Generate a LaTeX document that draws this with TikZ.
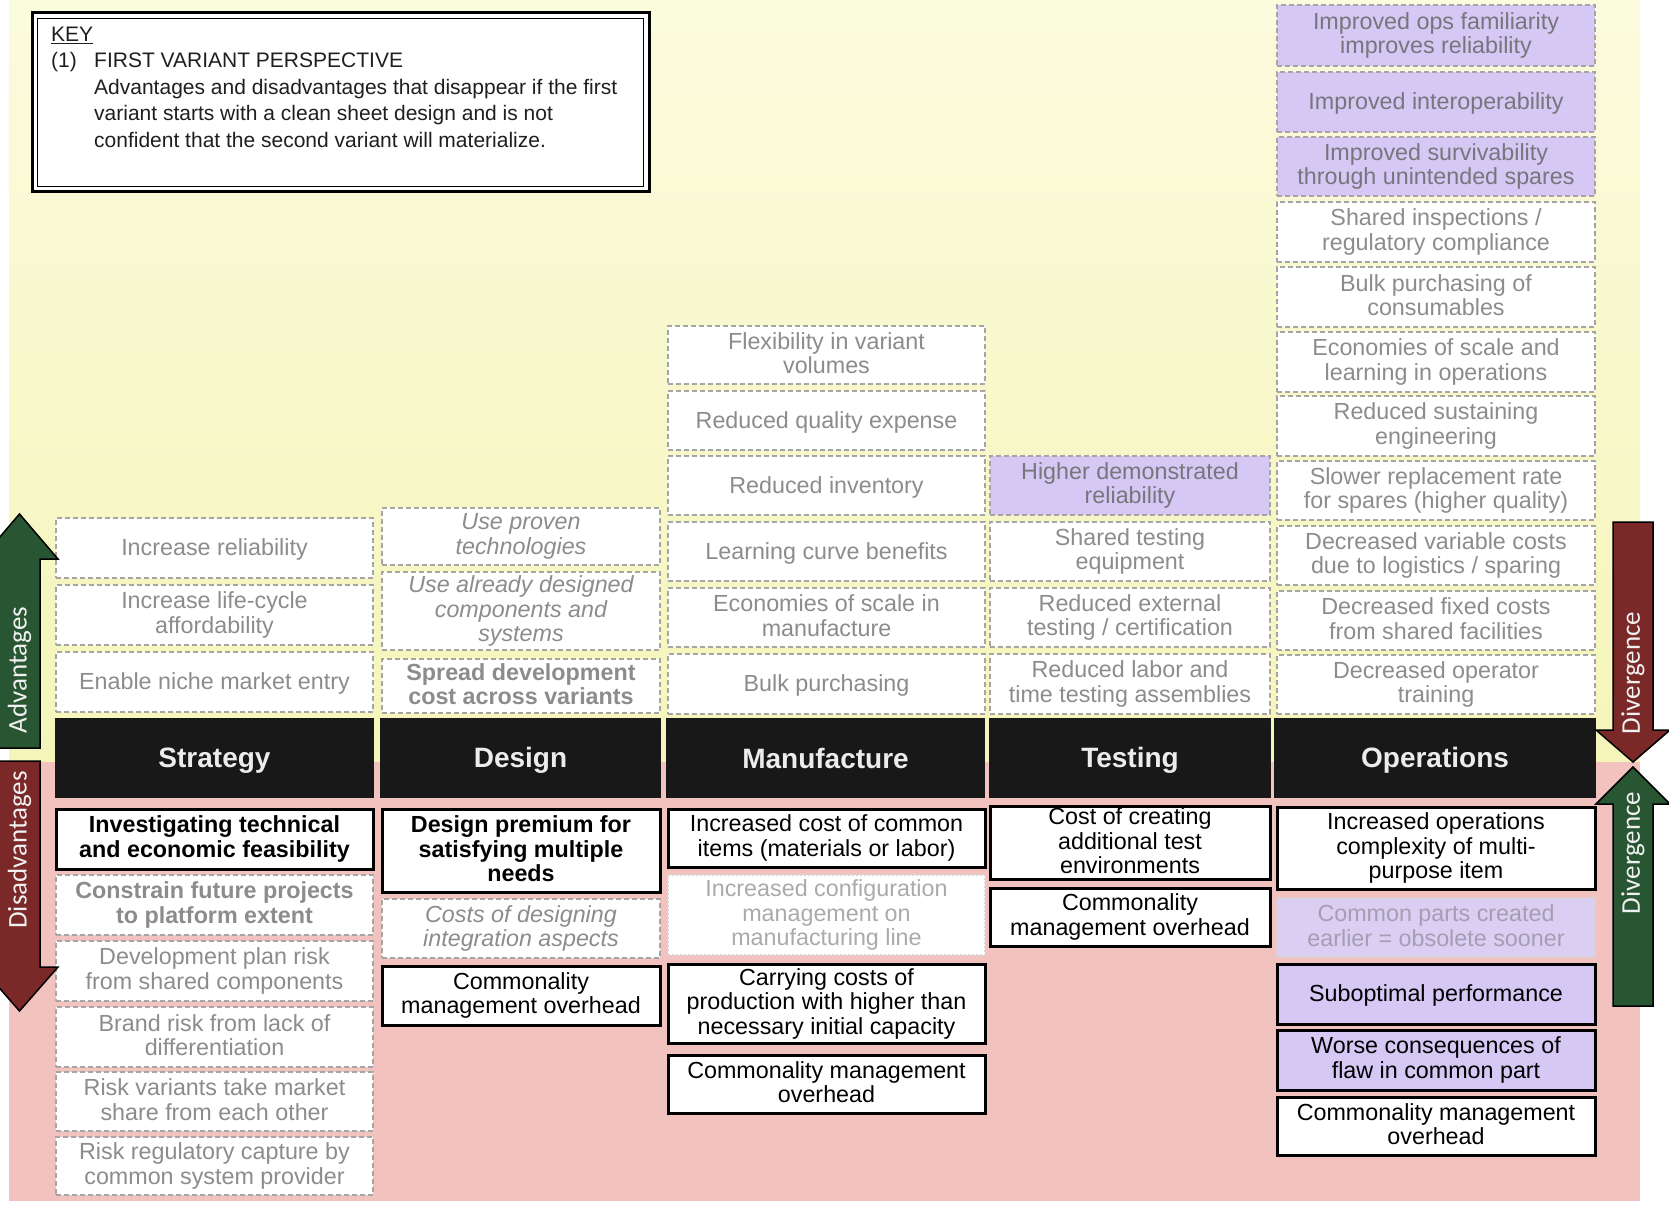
\documentclass[tikz,border=0pt]{standalone}
\usepackage{fontspec}
\setmainfont{Liberation Sans}
\newfontfamily\carlfont{Carlito}
\newcommand\cellfont{\fontsize{23.3}{24.5}\selectfont}
\newcommand\headfont{\fontsize{28}{30}\selectfont\bfseries}
\newcommand\keyfont{\fontsize{21}{26}\selectfont}
\newcommand\arrowfont{\carlfont\fontsize{27}{29}\selectfont}
% struts that centre the cap height of each text block in its box
\newcommand\cellstrut{\rule[-3.9pt]{0pt}{24.5pt}}
\newcommand\headstrut{\rule[-5pt]{0pt}{30pt}}

\definecolor{bgtop}{RGB}{251,251,222}
\definecolor{bgbot}{RGB}{245,245,186}
\definecolor{bgpink}{RGB}{241,194,190}
\definecolor{graytxt}{RGB}{140,140,140}
\definecolor{dashgray}{RGB}{165,165,165}
\definecolor{lav}{RGB}{214,200,244}
\definecolor{lavlight}{RGB}{218,206,243}
\definecolor{purtxt}{RGB}{118,118,124}
\definecolor{faintline}{RGB}{214,214,214}
\definecolor{fainttxt}{RGB}{170,170,170}
\definecolor{faintpurtxt}{RGB}{165,158,178}
\definecolor{headblack}{RGB}{24,24,24}
\definecolor{headtxt}{RGB}{236,236,236}
\definecolor{advgreen}{RGB}{40,86,50}
\definecolor{disred}{RGB}{122,40,40}
\definecolor{arrowtxtcol}{RGB}{240,240,240}

% a box from corner (x1,y1) to corner (x2,y2): style, name, x1, y1, x2, y2, text
\newcommand\cell[7]{\node[#1, minimum width={#5-#3}, minimum height={#6-#4}] (#2) at ({(#3+#5)/2},{(#4+#6)/2}) {#7};}

\tikzset{
  base/.style={rectangle, inner sep=0pt, align=center, font=\cellfont,
    execute at begin node=\cellstrut, execute at end node=\cellstrut},
  adv/.style={base, draw=dashgray, dash pattern=on 5pt off 3pt, line width=1.3pt, fill=white, text=graytxt},
  advit/.style={adv, font=\cellfont\itshape},
  advbf/.style={adv, font=\cellfont\bfseries},
  advpu/.style={adv, fill=lav, text=purtxt},
  dis/.style={base, draw=black, line width=3pt, fill=white, text=black},
  disbf/.style={dis, font=\cellfont\bfseries},
  dispu/.style={dis, fill=lav},
  faint/.style={base, draw=faintline, dash pattern=on 2pt off 2pt, line width=1.2pt, fill=white, text=fainttxt},
  faintpu/.style={faint, fill=lavlight, text=faintpurtxt},
  headbar/.style={rectangle, inner sep=0pt, align=center, fill=headblack, text=headtxt, font=\headfont,
    execute at begin node=\headstrut},
  keytxt/.style={inner sep=0pt, anchor=base west, font=\keyfont, text=black!88},
  bigarrow/.style={draw=black, line width=1.5pt, line join=miter},
  arrowlbl/.style={inner sep=0pt, rotate=90, font=\arrowfont, text=arrowtxtcol},
}

\begin{document}
\begin{tikzpicture}[x=1pt,y=-1pt]
\clip (0,0) rectangle (1669,1206);
\fill[white] (0,0) rectangle (1669,1206);

% background bands: advantages above, disadvantages below
\shade[top color=bgtop, bottom color=bgbot] (9,0) rectangle (1640,762);
\fill[bgpink] (9,762) rectangle (1640,1201);

% key
\draw[line width=3pt, fill=white] (32,13) rectangle (649,192);
\draw[line width=1.2pt] (37.5,18.5) rectangle (643.5,186.5);
\node[keytxt] (keyhd) at (51,42) {\underline{KEY}};
\node[keytxt] (keynum) at (51,68) {(1)};
\node[keytxt] (keytitle) at (94,68) {FIRST VARIANT PERSPECTIVE};
\node[keytxt] (keyl1) at (94,94.5) {Advantages and disadvantages that disappear if the first};
\node[keytxt] (keyl2) at (94,121) {variant starts with a clean sheet design and is not};
\node[keytxt] (keyl3) at (94,147.5) {confident that the second variant will materialize.};

% column headers
\cell{headbar}{hstrat}{55}{718}{374}{798}{Strategy}
\cell{headbar}{hdes}{380}{718}{661}{798}{Design}
\cell{headbar}{hman}{666}{718}{985}{798}{Manufacture}
\cell{headbar}{htest}{989}{718}{1271}{798}{Testing}
\cell{headbar}{hops}{1274}{718}{1596}{798}{Operations}

% strategy
\cell{adv}{s1}{56}{518}{373}{578}{Increase reliability}
\cell{adv}{s2}{56}{585}{373}{645}{Increase life-cycle\\affordability}
\cell{adv}{s3}{56}{652}{373}{712}{Enable niche market entry}
\cell{disbf}{s4}{56}{809}{373}{869}{Investigating technical\\and economic feasibility}
\cell{advbf}{s5}{56}{875}{373}{935}{Constrain future projects\\to platform extent}
\cell{adv}{s6}{56}{941}{373}{1001}{Development plan risk\\from shared components}
\cell{adv}{s7}{56}{1007}{373}{1067}{Brand risk from lack of\\differentiation}
\cell{adv}{s8}{56}{1072}{373}{1131}{Risk variants take market\\share from each other}
\cell{adv}{s9}{56}{1137}{373}{1195}{Risk regulatory capture by\\common system provider}

% design
\cell{advit}{d1}{382}{508}{660}{565}{Use proven\\technologies}
\cell{advit}{d2}{382}{572}{660}{650}{Use already designed\\components and\\systems}
\cell{advbf}{d3}{382}{659}{660}{713}{Spread development\\cost across variants}
\cell{disbf}{d4}{382}{809}{660}{892}{Design premium for\\satisfying multiple\\needs}
\cell{advit}{d5}{382}{899}{660}{958}{Costs of designing\\integration aspects}
\cell{dis}{d6}{382}{966}{660}{1025}{Commonality\\management overhead}

% manufacture
\cell{adv}{m1}{668}{326}{985}{384}{Flexibility in variant\\volumes}
\cell{adv}{m2}{668}{391}{985}{450}{Reduced quality expense}
\cell{adv}{m3}{668}{456}{985}{515}{Reduced inventory}
\cell{adv}{m4}{668}{522}{985}{581}{Learning curve benefits}
\cell{adv}{m5}{668}{588}{985}{647}{Economies of scale in\\manufacture}
\cell{adv}{m6}{668}{654}{985}{714}{Bulk purchasing}
\cell{dis}{m7}{668}{809}{985}{867}{Increased cost of common\\items (materials or labor)}
\cell{faint}{m8}{668}{875}{985}{955}{Increased configuration\\management on\\manufacturing line}
\cell{dis}{m9}{668}{964}{985}{1043}{Carrying costs of\\production with higher than\\necessary initial capacity}
\cell{dis}{m10}{668}{1055}{985}{1113}{Commonality management\\overhead}

% testing
\cell{advpu}{t1}{990}{456}{1270}{515}{Higher demonstrated\\reliability}
\cell{adv}{t2}{990}{522}{1270}{581}{Shared testing\\equipment}
\cell{adv}{t3}{990}{588}{1270}{647}{Reduced external\\testing / certification}
\cell{adv}{t4}{990}{654}{1270}{714}{Reduced labor and\\time testing assemblies}
\cell{dis}{t5}{990}{806}{1270}{879}{Cost of creating\\additional test\\environments}
\cell{dis}{t6}{990}{888}{1270}{946}{Commonality\\management overhead}

% operations
\cell{advpu}{o1}{1277}{5}{1595}{66}{Improved ops familiarity\\improves reliability}
\cell{advpu}{o2}{1277}{72}{1595}{132}{Improved interoperability}
\cell{advpu}{o3}{1277}{137}{1595}{196}{Improved survivability\\through unintended spares}
\cell{adv}{o4}{1277}{202}{1595}{262}{Shared inspections /\\regulatory compliance}
\cell{adv}{o5}{1277}{267}{1595}{327}{Bulk purchasing of\\consumables}
\cell{adv}{o6}{1277}{332}{1595}{392}{Economies of scale and\\learning in operations}
\cell{adv}{o7}{1277}{396}{1595}{456}{Reduced sustaining\\engineering}
\cell{adv}{o8}{1277}{461}{1595}{520}{Slower replacement rate\\for spares (higher quality)}
\cell{adv}{o9}{1277}{526}{1595}{585}{Decreased variable costs\\due to logistics / sparing}
\cell{adv}{o10}{1277}{591}{1595}{650}{Decreased fixed costs\\from shared facilities}
\cell{adv}{o11}{1277}{655}{1595}{714}{Decreased operator\\training}
\cell{dis}{o12}{1277}{807}{1595}{889}{Increased operations\\complexity of multi-\\purpose item}
\cell{faintpu}{o13}{1277}{898}{1595}{957}{Common parts created\\earlier = obsolete sooner}
\cell{dispu}{o14}{1277}{964}{1595}{1024}{Suboptimal performance}
\cell{dispu}{o15}{1277}{1030}{1595}{1090}{Worse consequences of\\flaw in common part}
\cell{dis}{o16}{1277}{1097}{1595}{1155}{Commonality management\\overhead}

% side arrows
\draw[bigarrow, fill=advgreen] (-2,748) -- (-2,559) -- (-19,559) -- (19.5,514) -- (58,559) -- (40,559) -- (40,748) -- cycle;
\node[arrowlbl] (advlbl) at (19.5,670) {Advantages};
\draw[bigarrow, fill=disred] (-2,761) -- (40,761) -- (40,967) -- (58,967) -- (19.5,1011) -- (-19,967) -- (-2,967) -- cycle;
\node[arrowlbl] (dislbl) at (19.5,850) {Disadvantages};

\draw[bigarrow, fill=disred] (1613,522) -- (1653,522) -- (1653,730) -- (1670,730) -- (1633,762) -- (1596,730) -- (1613,730) -- cycle;
\node[arrowlbl] (divtop) at (1633,673) {Divergence};
\draw[bigarrow, fill=advgreen] (1613,1006) -- (1613,804) -- (1596,804) -- (1633,767) -- (1670,804) -- (1653,804) -- (1653,1006) -- cycle;
\node[arrowlbl] (divbot) at (1633,853) {Divergence};
\end{tikzpicture}
\end{document}
